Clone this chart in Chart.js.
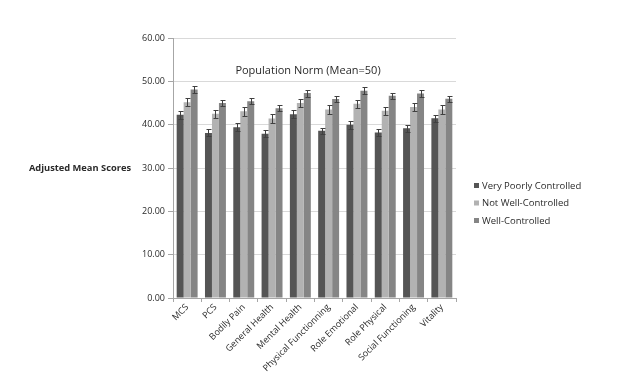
<!DOCTYPE html>
<html>
<head>
<meta charset="utf-8">
<script src="https://cdn.jsdelivr.net/npm/chart.js@4"></script>
<style>
  html, body { margin: 0; padding: 0; background: #fff; }
  #wrap { position: relative; width: 640px; height: 379px; }
</style>
</head>
<body>
<div id="wrap"><canvas id="chart" width="640" height="379"></canvas></div>
<script>
// Adjusted mean SF-36 scores by asthma control level, with error bars

const CATEGORIES = ["MCS", "PCS", "Bodily Pain", "General Health", "Mental Health",
  "Physical Functionning", "Role Emotional", "Role Physical", "Social Functioning", "Vitality"];

const VERY_POOR = [42.3, 38.1, 39.4, 37.9, 42.4, 38.6, 40.0, 38.2, 39.2, 41.5];
const NOT_WELL  = [45.2, 42.5, 43.1, 41.4, 45.0, 43.5, 44.8, 43.2, 44.1, 43.5];
const WELL      = [48.1, 45.0, 45.4, 43.8, 47.3, 45.9, 47.8, 46.7, 47.2, 46.0];

const ERR_VERY_POOR = [0.9, 0.8, 0.9, 0.8, 0.9, 0.7, 0.9, 0.8, 0.8, 0.8];
const ERR_NOT_WELL  = [1.0, 0.9, 1.0, 1.0, 1.0, 1.0, 1.0, 0.9, 1.0, 1.0];
const ERR_WELL      = [0.8, 0.7, 0.7, 0.7, 0.8, 0.7, 0.8, 0.7, 0.8, 0.7];

const Y_MIN = 0, Y_MAX = 60, Y_STEP = 10;
const NORM_LABEL = "Population Norm (Mean=50)";
const Y_TITLE = "Adjusted Mean Scores";

const FONT = "'Open Sans', Lato, sans-serif";
const C = { dark: "#555555", light: "#b2b2b2", mid: "#858585", text: "#2a2a2a", grid: "#d9d9d9", axis: "#a6a6a6" };

// error bars drawn through the bar elements' own coordinates and the y scale
const errorBars = {
  id: "errorBars",
  afterDatasetsDraw(chart) {
    const ctx = chart.ctx, y = chart.scales.y;
    ctx.save();
    ctx.strokeStyle = "#404040";
    ctx.lineWidth = 1;
    chart.data.datasets.forEach((ds, i) => {
      const meta = chart.getDatasetMeta(i);
      meta.data.forEach((bar, j) => {
        const v = ds.data[j], e = ds.errors[j];
        const top = Math.round(y.getPixelForValue(v + e)) + 0.5;
        const bot = Math.round(y.getPixelForValue(v - e)) + 0.5;
        const x = Math.round(bar.x) + 0.5;
        ctx.beginPath();
        ctx.moveTo(x, top); ctx.lineTo(x, bot);
        ctx.moveTo(x - 2, top); ctx.lineTo(x + 3, top);
        ctx.moveTo(x - 2, bot); ctx.lineTo(x + 3, bot);
        ctx.stroke();
      });
    });
    ctx.restore();
  }
};

// axis title, norm caption and legend
const annotations = {
  id: "annotations",
  afterDraw(chart) {
    const ctx = chart.ctx, y = chart.scales.y;
    ctx.save();
    ctx.fillStyle = C.text;
    ctx.textBaseline = "middle";
    ctx.font = "bold 9.3px " + FONT;
    ctx.textAlign = "right";
    ctx.fillText(Y_TITLE, 131, y.getPixelForValue(30));

    ctx.font = "11px " + FONT;
    ctx.textAlign = "center";
    ctx.fillText(NORM_LABEL, 308, y.getPixelForValue(50) - 10);

    ctx.font = "9.5px " + FONT;
    ctx.textAlign = "left";
    chart.data.datasets.forEach((ds, i) => {
      const ly = 186 + i * 17.5;
      ctx.fillStyle = ds.backgroundColor;
      ctx.fillRect(474, ly - 3, 5, 5);
      ctx.fillStyle = C.text;
      ctx.fillText(ds.label, 482, ly);
    });
    ctx.restore();
  }
};

new Chart(document.getElementById("chart"), {
  type: "bar",
  data: {
    labels: CATEGORIES,
    datasets: [
      { label: "Very Poorly Controlled", data: VERY_POOR, errors: ERR_VERY_POOR, backgroundColor: C.dark },
      { label: "Not Well-Controlled", data: NOT_WELL, errors: ERR_NOT_WELL, backgroundColor: C.light },
      { label: "Well-Controlled", data: WELL, errors: ERR_WELL, backgroundColor: C.mid },
    ],
  },
  options: {
    responsive: false,
    animation: false,
    layout: { padding: { left: 123, right: 184, top: 38, bottom: 4 } },
    datasets: { bar: { categoryPercentage: 0.74, barPercentage: 1.0 } },
    plugins: { legend: { display: false }, tooltip: { enabled: false } },
    scales: {
      x: {
        grid: { display: true, drawOnChartArea: false, offset: true, color: C.axis, tickLength: 4 },
        border: { color: C.axis },
        ticks: { color: C.text, font: { family: FONT, size: 9 }, minRotation: 45, maxRotation: 45, padding: 0, autoSkip: false },
        afterFit: (s) => { s.height = 77; },
      },
      y: {
        min: Y_MIN, max: Y_MAX,
        grid: { color: C.grid, tickLength: 5, tickColor: C.axis },
        border: { color: C.axis },
        ticks: { stepSize: Y_STEP, color: C.text, font: { family: FONT, size: 9 }, padding: 3,
          callback: (v) => v.toFixed(2) },
        afterFit: (s) => { s.width = 50; },
      },
    },
  },
  plugins: [errorBars, annotations],
});
</script>
</body>
</html>
